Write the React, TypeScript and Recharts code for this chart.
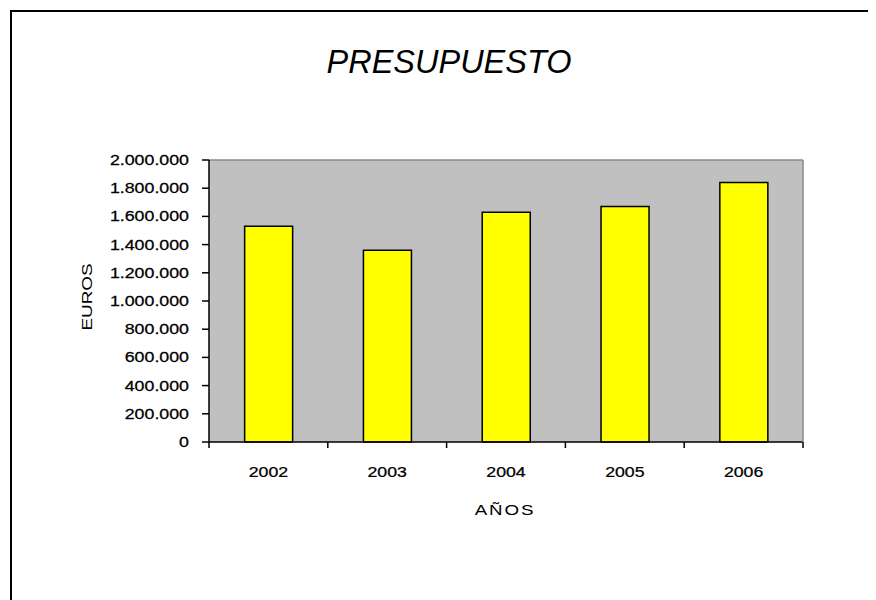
import React from "react";
import { BarChart, Bar, XAxis, YAxis, CartesianGrid, ReferenceLine } from "recharts";

const years = ["2002", "2003", "2004", "2005", "2006"];
const budget = [1530000, 1360000, 1630000, 1670000, 1840000];
const yTicks = [0, 200000, 400000, 600000, 800000, 1000000, 1200000, 1400000, 1600000, 1800000, 2000000];

const data = years.map((year, i) => ({ year, euros: budget[i] }));

const FONT = '"Liberation Sans", Arial, Helvetica, sans-serif';

const fmt = (v: number) => String(v).replace(/\B(?=(\d{3})+(?!\d))/g, ".");

const YTick = (props: any) => {
  const { x, y, payload } = props;
  return (
    <text
      transform={`translate(${x - 11},${y + 5}) scale(1.27,1)`}
      textAnchor="end"
      fontSize={14}
      fontFamily={FONT}
      fill="#000"
      stroke="#000"
      strokeWidth={0.25}
    >
      {fmt(payload.value)}
    </text>
  );
};

// category labels, with Excel-style tick marks on the category boundaries
const XTick = (props: any) => {
  const { x, y, payload, index, visibleTicksCount } = props;
  const half = payload.offset || 0;
  const last = index === visibleTicksCount - 1;
  return (
    <g>
      <line x1={x - half} x2={x - half} y1={y} y2={y + 6} stroke="#000" strokeWidth={1.5} />
      {last && <line x1={x + half} x2={x + half} y1={y} y2={y + 6} stroke="#000" strokeWidth={1.5} />}
      <text
        transform={`translate(${x},${y + 35}) scale(1.18,1)`}
        textAnchor="middle"
        fontSize={15}
        fontFamily={FONT}
        fill="#000"
        stroke="#000"
        strokeWidth={0.25}
      >
        {payload.value}
      </text>
    </g>
  );
};

export default function App() {
  return (
    <div style={{ position: "relative", width: 868, height: 592, overflow: "hidden", background: "#fff" }}>
      <div
        style={{
          position: "absolute",
          left: 2,
          top: 2,
          width: 900,
          height: 700,
          borderLeft: "2px solid #000",
          borderTop: "2px solid #000",
        }}
      />
      <div style={{ position: "absolute", left: 0, top: 0 }}>
        <BarChart
          width={868}
          height={592}
          data={data}
          margin={{ top: 152, right: 72, bottom: 98, left: 0 }}
          barCategoryGap="30%"
        >
          <CartesianGrid fill="#c0c0c0" stroke="none" horizontal={false} vertical={false} />
          <XAxis
            dataKey="year"
            height={60}
            axisLine={{ stroke: "#000", strokeWidth: 1.5 }}
            tickLine={false}
            tickSize={0}
            tickMargin={0}
            tick={<XTick />}
            interval={0}
          />
          <YAxis
            domain={[0, 2000000]}
            ticks={yTicks}
            width={201}
            tickSize={7}
            axisLine={{ stroke: "#000", strokeWidth: 1.5 }}
            tickLine={{ stroke: "#000", strokeWidth: 1.5 }}
            tick={<YTick />}
            interval={0}
          />
          <YAxis
            yAxisId="r"
            orientation="right"
            domain={[0, 1]}
            width={1}
            tick={false}
            tickLine={false}
            axisLine={{ stroke: "#8a8a8a", strokeWidth: 1.5 }}
          />
          <ReferenceLine y={2000000} stroke="#8a8a8a" strokeWidth={1.5} />
          <Bar dataKey="euros" fill="#ffff00" stroke="#000" strokeWidth={1.5} isAnimationActive={false} />
          <text
            x={441}
            y={65}
            textAnchor="middle"
            fontSize={32.5}
            fontStyle="italic"
            fontFamily={FONT}
            fill="#000"
          >
            PRESUPUESTO
          </text>
          <text
            transform="translate(84,289) rotate(-90) scale(1.35,1)"
            textAnchor="middle"
            fontSize={14}
            fontFamily={FONT}
            fill="#000"
          >
            EUROS
          </text>
          <text
            transform="translate(497,507) scale(1.25,1)"
            textAnchor="middle"
            fontSize={15}
            letterSpacing={1.5}
            fontFamily={FONT}
            fill="#000"
          >
            AÑOS
          </text>
        </BarChart>
      </div>
    </div>
  );
}
